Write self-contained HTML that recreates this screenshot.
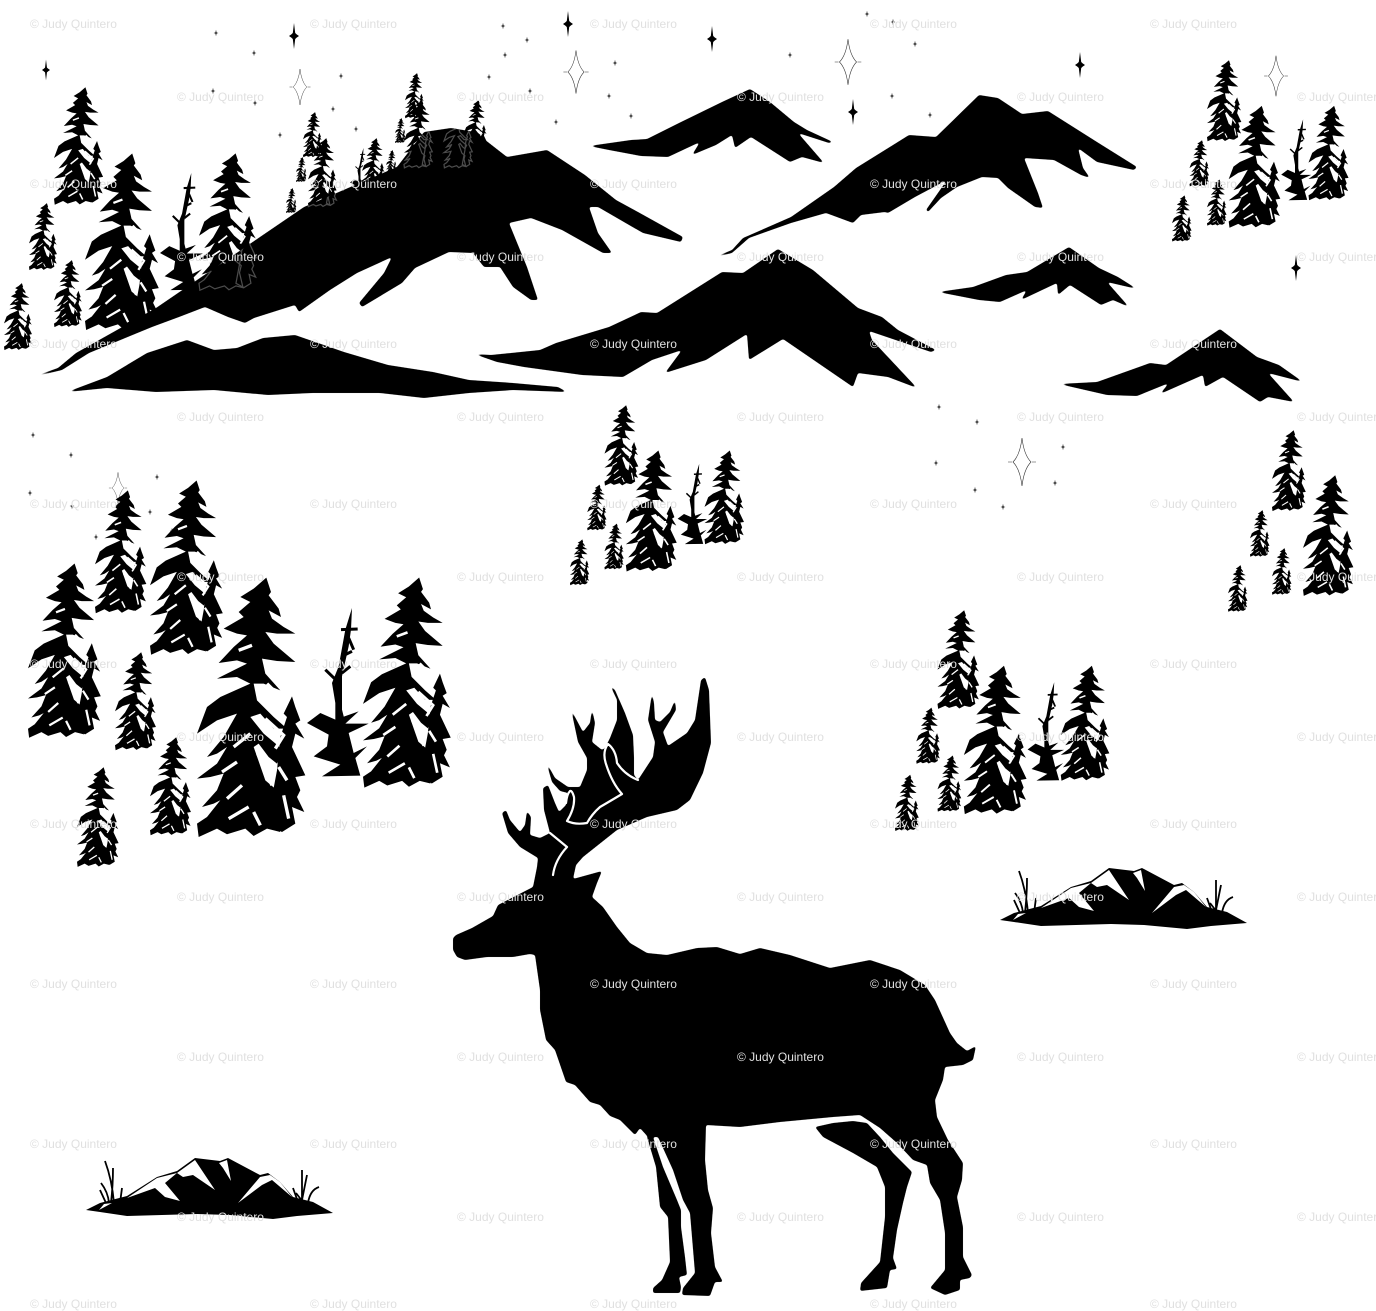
<!DOCTYPE html>
<html lang="en"><head><meta charset="utf-8"><title>Elk and mountains</title>
<style>html,body{margin:0;padding:0;background:#fff}svg{display:block}.w text{font:12px "Liberation Sans",sans-serif;fill:#e0e0e0}</style></head>
<body>
<svg xmlns="http://www.w3.org/2000/svg" width="1376" height="1311" viewBox="0 0 1376 1311">
<defs>
<filter id="r" filterUnits="userSpaceOnUse" x="0" y="0" width="1376" height="1311"><feGaussianBlur stdDeviation="1"/><feComponentTransfer><feFuncA type="linear" slope="5" intercept="-2"/></feComponentTransfer></filter>
<g id="Ao" transform="translate(-530,-320)">
<polygon points="738,322 752,365 745,375 775,415 782,440 745,420 755,445 790,470 825,490 770,490 735,485 760,520 825,575 770,572 725,565 735,610 780,660 730,640 700,640 710,690 760,740 800,775 760,775 720,730 690,740 730,790 790,840 770,880 745,860 715,820 700,830 735,930 770,960 760,1000 780,1085 740,1075 700,1097 675,1075 620,1092 590,1075 535,1100 530,1060 560,1040 600,990 580,1000 545,1010 590,960 610,910 570,920 530,925 590,880 620,830 590,850 560,860 610,800 650,730 590,750 530,790 560,710 600,680 690,640 650,620 590,625 680,580 650,570 595,578 640,530 680,495 650,490 610,475 670,440 655,425 690,395 660,380 700,355"/>
<polygon points="815,678 825,710 840,750 825,760 852,805 825,790 815,830 855,915 825,920 840,960 830,980 852,1025 815,1010 825,1060 785,1085 740,1060 770,900 780,800 800,740 790,730"/>
</g>
<g id="A"><use href="#Ao"/>
<path transform="translate(-530,-320)" fill="none" stroke="#fff" stroke-width="10" d="M735,745L790,795L765,835M712,850L755,945M620,985L665,945M605,905L650,875M625,1045L685,1010M700,1025L720,1065M790,975L805,1045M640,830L690,790M655,540L695,525M740,640L780,680M775,890L800,930"/>
</g>
<g id="S" transform="translate(-860,-415)">
<polygon points="995,415 992,480 985,530 965,620 965,720 985,800 1000,880 960,880 945,800 945,700 935,640 955,590 975,480"/>
<polygon points="860,760 900,730 945,750 1015,725 975,762 1045,762 985,790 1000,850 1040,830 1005,865 1020,918 905,920 960,885 880,860 920,830 925,795"/>
<path fill="none" stroke="#000" stroke-width="9" d="M915,600L948,632M962,480L1012,478M985,505L1000,540M965,560L995,545M965,610L990,590"/>
</g>
<g id="P">
<use href="#A" transform="translate(54,87) scale(.151)"/>
<use href="#A" transform="translate(85,153) scale(.227)"/>
<use href="#S" transform="translate(160,173) scale(.232)"/>
<use href="#A" transform="translate(199,153) scale(.176)"/>
<use href="#A" transform="translate(29,203) scale(.086)"/>
<use href="#A" transform="translate(54,260) scale(.086)"/>
<use href="#A" transform="translate(4,283) scale(.086)"/>
</g>
<polygon id="m1" points="29,378 58,368 76,353 156,308 304,207 397,167 424,132 451,128 475,132 507,157 547,150 585,175 616,200 638,212 683,237 681,242 643,233 598,207 589,207 598,233 612,253 603,253 562,230 531,218 509,223 527,267 538,300 531,300 513,287 500,267 484,267 473,253 449,252 415,268 402,283 362,307 359,303 384,273 392,257 357,273 330,290 299,312 295,305 254,318 245,323 228,317 205,307 179,317 152,327 89,353 62,370"/>
<clipPath id="cm"><use href="#m1"/></clipPath>
<g id="H">
<polygon points="86,1210 100,1203 127,1196 157,1177 177,1171 195,1158 220,1161 228,1158 260,1175 268,1173 280,1182 293,1197 313,1202 333,1213 297,1216 273,1219 230,1215 197,1214 127,1216 100,1212"/>
<g fill="#fff"><polygon points="127,1198 157,1178 177,1173 165,1183 180,1201 165,1197 155,1188"/><polygon points="177,1173 195,1160 215,1190 193,1175 183,1177"/><polygon points="219,1163 227,1160 231,1181 223,1168"/><polygon points="238,1203 260,1177 270,1175 280,1182 292,1197 272,1180 262,1185"/><polygon points="99,1210 112,1203 104,1204"/></g>
<path fill="none" stroke="#000" stroke-width="1.8" d="M105,1161Q112,1180 114,1203M113,1168Q113,1185 111,1203M101,1183Q108,1192 109,1203M100,1190L106,1203M122,1188L120,1203M302,1170L302,1200M307,1175L302,1200M319,1187Q310,1190 308,1203M293,1188L298,1202M296,1193L303,1202"/>
</g>
<path id="t" d="M0,-3.2L.5,-.5L2.4,0L.5,.5L0,3.2L-.5,.5L-2.4,0L-.5,-.5Z"/>
<path id="s" d="M0,-13L1.2,-3L2.8,-1.5L5,0L2.8,1.5L1.2,3L0,13L-1.2,3L-2.8,1.5L-5,0L-2.8,-1.5L-1.2,-3Z"/>
<g id="o" fill="none" stroke="#333" stroke-width=".6"><path d="M0,-24Q2,-7 9,0Q2,7 0,24Q-2,7 -9,0Q-2,-7 0,-24Z"/><path d="M-14,0H-10M10,0H14"/></g>
</defs>

<rect width="1376" height="1311" fill="#fff"/>

<!-- stars -->
<use href="#s" transform="translate(46,70) scale(.8)"/><use href="#s" transform="translate(294,36)"/><use href="#s" transform="translate(568,24)"/><use href="#s" transform="translate(712,39)"/><use href="#s" transform="translate(853,112)"/><use href="#s" transform="translate(1080,65)"/><use href="#s" transform="translate(1296,268)"/>
<use href="#o" transform="translate(300,87) scale(.75)"/><use href="#o" transform="translate(576,72) scale(.9)"/><use href="#o" transform="translate(848,62) scale(.95)"/><use href="#o" transform="translate(1276,76) scale(.85)"/><use href="#o" transform="translate(1022,462)"/><use href="#o" transform="translate(118,488) scale(.65)"/>
<g>
<use href="#t" x="213" y="91"/><use href="#t" x="255" y="103"/><use href="#t" x="341" y="76"/><use href="#t" x="333" y="109"/><use href="#t" x="356" y="129"/><use href="#t" x="280" y="135"/><use href="#t" x="489" y="77"/><use href="#t" x="530" y="91"/><use href="#t" x="556" y="122"/><use href="#t" x="609" y="96"/><use href="#t" x="631" y="116"/><use href="#t" x="615" y="63"/><use href="#t" x="216" y="33"/><use href="#t" x="254" y="53"/><use href="#t" x="503" y="26"/><use href="#t" x="527" y="40"/><use href="#t" x="505" y="55"/><use href="#t" x="790" y="55"/><use href="#t" x="867" y="14"/><use href="#t" x="893" y="22"/><use href="#t" x="915" y="44"/><use href="#t" x="892" y="96"/><use href="#t" x="930" y="115"/><use href="#t" x="939" y="407"/><use href="#t" x="977" y="422"/><use href="#t" x="936" y="463"/><use href="#t" x="1063" y="447"/><use href="#t" x="1055" y="483"/><use href="#t" x="1003" y="507"/><use href="#t" x="975" y="490"/><use href="#t" x="33" y="435"/><use href="#t" x="71" y="455"/><use href="#t" x="30" y="493"/><use href="#t" x="157" y="477"/><use href="#t" x="150" y="512"/><use href="#t" x="96" y="537"/><use href="#t" x="172" y="531"/><use href="#t" x="72" y="506"/>
</g>

<!-- top-left cluster -->
<use href="#P"/>
<!-- trees on the left mountain -->
<use href="#A" transform="translate(303,112) scale(.058)"/>
<use href="#A" transform="translate(296,157) scale(.032)"/>
<use href="#A" transform="translate(286,188) scale(.032)"/>
<use href="#A" transform="translate(308,138) scale(.088)"/>
<use href="#S" transform="translate(350,148) scale(.1)"/>
<use href="#A" transform="translate(362,138) scale(.07)"/>
<use href="#A" transform="translate(386,150) scale(.032)"/>
<use href="#A" transform="translate(395,118) scale(.032)"/>
<use href="#A" transform="translate(405,73) scale(.058)"/>
<use href="#A" transform="translate(404,100) scale(.087)"/>
<use href="#A" transform="translate(464,100) scale(.07)"/>

<!-- mountains -->
<g filter="url(#r)">
<use href="#m1"/>
<polygon points="67,392 107,377 147,353 187,340 214,350 237,348 263,338 295,335 344,352 388,365 433,372 469,380 513,383 558,387 567,392 513,390 469,393 424,398 380,393 312,393 268,395 214,390 156,392 107,388"/>
<polygon points="589,146 631,140 647,139 679,123 722,102 750,89 770,102 794,122 807,130 833,142 829,143 798,133 824,163 802,157 790,162 751,137 735,148 732,135 716,145 692,155 700,142 668,157 641,156 609,150"/>
<polygon points="712,258 732,250 743,238 791,217 834,187 856,168 909,135 936,137 979,95 998,98 1022,114 1048,111 1097,142 1137,167 1134,170 1097,162 1078,148 1083,168 1090,178 1081,175 1054,160 1024,158 1038,193 1043,208 1035,207 1008,188 998,178 982,177 957,187 941,198 928,212 926,210 947,180 915,197 888,213 885,212 861,215 853,223 826,213 791,223 749,238 732,253"/>
<polygon points="474,354 491,355 540,350 556,343 609,327 641,312 657,313 722,272 743,273 778,249 813,270 858,308 882,317 898,330 936,350 931,352 869,331 872,340 917,388 888,377 858,373 853,387 783,339 749,360 747,334 706,360 665,373 682,350 652,360 623,377 582,375 524,367 497,362"/>
<polygon points="938,292 973,287 1006,275 1027,272 1069,247 1099,268 1118,277 1137,289 1107,282 1129,307 1113,300 1101,305 1070,285 1058,295 1057,283 1021,300 1027,290 1000,302 979,300"/>
<polygon points="1059,384 1097,382 1150,363 1166,365 1220,329 1257,357 1279,365 1303,382 1268,373 1294,402 1268,397 1260,402 1223,377 1205,387 1203,375 1160,394 1169,383 1137,396 1107,395"/>
</g>
<g clip-path="url(#cm)" fill="none" stroke="#4c4c4c">
<use href="#Ao" transform="translate(404,100) scale(.087)" stroke-width="14"/>
<use href="#Ao" transform="translate(444,100) scale(.087)" stroke-width="14"/>
<use href="#Ao" transform="translate(199,153) scale(.176)" stroke-width="7"/>
<use href="#Ao" transform="translate(308,138) scale(.088)" stroke-width="14"/>
</g>

<!-- repeated clusters -->
<use href="#P" transform="translate(567.2,345.4) scale(.69,.685)"/>
<use href="#P" transform="translate(891.6,536.9) scale(.85,.84)"/>
<use href="#P" transform="translate(1169.2,0) scale(.7,.69)"/>

<!-- far-right cluster -->
<use href="#A" transform="translate(1272,430) scale(.104)"/>
<use href="#A" transform="translate(1303,475) scale(.155)"/>
<use href="#A" transform="translate(1250,510) scale(.06)"/>
<use href="#A" transform="translate(1272,548) scale(.06)"/>
<use href="#A" transform="translate(1228,565) scale(.06)"/>

<!-- left cluster -->
<use href="#A" transform="translate(197,577) scale(.3333)"/>
<use href="#A" transform="translate(150,480) scale(.224)"/>
<use href="#A" transform="translate(28,563) scale(.224)"/>
<use href="#A" transform="translate(95,490) scale(.158)"/>
<use href="#A" transform="translate(115,652) scale(.126)"/>
<use href="#A" transform="translate(150,737) scale(.126)"/>
<use href="#A" transform="translate(77,767) scale(.128)"/>
<use href="#A" transform="translate(363,577) scale(.27)"/>
<use href="#S" transform="translate(307,608) scale(.3333)"/>

<!-- small hills -->
<use href="#H"/>
<use href="#H" transform="translate(914,-290)"/>

<!-- elk -->
<g filter="url(#r)">
<path d="M453,938L456,935L472,928L493,916L498,905L533,887L537,867L538,858L520,847L508,833L502,813L506,810L510,820L520,832L525,825L527,811L531,817L530,835L540,838L550,833L544,810L543,788L548,785L555,803L559,812L566,805L568,793L560,791L552,782L547,765L547,765L549,767L555,778L568,787L580,787L587,770L587,758L578,742L571,709L575,717L583,732L590,723L592,709L595,723L592,742L602,750L605,748L610,738L617,720L617,700L610,685L615,690L625,713L633,735L634,757L634,775L638,780L653,757L655,742L648,720L652,693L654,703L655,720L660,722L670,712L675,700L676,710L663,732L668,746L687,733L695,720L701,680L705,677L709,690L711,743L703,773L690,800L677,810L647,817L617,830L583,857L576,865L573,879L602,871L597,883L592,897L603,907L617,927L630,943L647,953L667,955L697,948L717,947L740,954L760,948L790,955L830,968L870,960L900,970L925,985L935,1000L950,1033L957,1043L967,1051L976,1046L973,1060L963,1065L945,1067L943,1080L935,1100L937,1117L948,1140L963,1163L962,1180L957,1197L963,1227L963,1257L972,1275L970,1278L960,1280L960,1290L945,1295L930,1288L945,1270L945,1233L940,1200L930,1183L927,1165L913,1160L897,1143L880,1128L860,1115L833,1117L780,1122L740,1127L706,1125L705,1160L708,1190L713,1208L711,1233L715,1267L723,1282L715,1282L710,1296L682,1295L683,1288L695,1273L690,1213L683,1200L673,1170L658,1137L648,1137L640,1128L635,1135L620,1120L610,1116L600,1105L590,1102L575,1085L566,1082L555,1050L546,1040L540,1010L540,990L535,955L530,954L513,957L487,957L465,960L457,957L453,950Z"/>
<polygon points="647,1137 656,1167 660,1207 668,1217 670,1262 662,1280 653,1288 653,1293 680,1293 681,1287 679,1277 687,1275 685,1257 681,1227 681,1210 677,1200 663,1167 653,1137"/>
<polygon points="815,1127 833,1123 853,1121 867,1123 880,1137 893,1153 912,1172 907,1187 903,1203 897,1230 893,1258 897,1269 890,1270 887,1288 860,1291 861,1283 880,1262 885,1217 885,1187 877,1167 853,1153 823,1137"/>
</g>
<!-- antler highlights -->
<path fill="none" stroke="#fff" stroke-width="2.2" stroke-linejoin="round" stroke-linecap="round" d="M608,744Q602,752 606,764Q612,783 622,794Q612,800 600,807Q592,814 587,823Q575,825 567,821Q575,808 574,797Q572,790 570,791Q567,794 566,803M608,744Q616,750 617,763Q625,775 638,780M550,833L567,847Q555,860 553,875"/>

<!-- watermark -->
<g class="w">
<text x="30" y="28">© Judy Quintero</text><text x="310" y="28">© Judy Quintero</text><text x="590" y="28">© Judy Quintero</text><text x="870" y="28">© Judy Quintero</text><text x="1150" y="28">© Judy Quintero</text>
<text x="177" y="101">© Judy Quintero</text><text x="457" y="101">© Judy Quintero</text><text x="737" y="101">© Judy Quintero</text><text x="1017" y="101">© Judy Quintero</text><text x="1297" y="101">© Judy Quintero</text>
<text x="30" y="188">© Judy Quintero</text><text x="310" y="188">© Judy Quintero</text><text x="590" y="188">© Judy Quintero</text><text x="870" y="188">© Judy Quintero</text><text x="1150" y="188">© Judy Quintero</text>
<text x="177" y="261">© Judy Quintero</text><text x="457" y="261">© Judy Quintero</text><text x="737" y="261">© Judy Quintero</text><text x="1017" y="261">© Judy Quintero</text><text x="1297" y="261">© Judy Quintero</text>
<text x="30" y="348">© Judy Quintero</text><text x="310" y="348">© Judy Quintero</text><text x="590" y="348">© Judy Quintero</text><text x="870" y="348">© Judy Quintero</text><text x="1150" y="348">© Judy Quintero</text>
<text x="177" y="421">© Judy Quintero</text><text x="457" y="421">© Judy Quintero</text><text x="737" y="421">© Judy Quintero</text><text x="1017" y="421">© Judy Quintero</text><text x="1297" y="421">© Judy Quintero</text>
<text x="30" y="508">© Judy Quintero</text><text x="310" y="508">© Judy Quintero</text><text x="590" y="508">© Judy Quintero</text><text x="870" y="508">© Judy Quintero</text><text x="1150" y="508">© Judy Quintero</text>
<text x="177" y="581">© Judy Quintero</text><text x="457" y="581">© Judy Quintero</text><text x="737" y="581">© Judy Quintero</text><text x="1017" y="581">© Judy Quintero</text><text x="1297" y="581">© Judy Quintero</text>
<text x="30" y="668">© Judy Quintero</text><text x="310" y="668">© Judy Quintero</text><text x="590" y="668">© Judy Quintero</text><text x="870" y="668">© Judy Quintero</text><text x="1150" y="668">© Judy Quintero</text>
<text x="177" y="741">© Judy Quintero</text><text x="457" y="741">© Judy Quintero</text><text x="737" y="741">© Judy Quintero</text><text x="1017" y="741">© Judy Quintero</text><text x="1297" y="741">© Judy Quintero</text>
<text x="30" y="828">© Judy Quintero</text><text x="310" y="828">© Judy Quintero</text><text x="590" y="828">© Judy Quintero</text><text x="870" y="828">© Judy Quintero</text><text x="1150" y="828">© Judy Quintero</text>
<text x="177" y="901">© Judy Quintero</text><text x="457" y="901">© Judy Quintero</text><text x="737" y="901">© Judy Quintero</text><text x="1017" y="901">© Judy Quintero</text><text x="1297" y="901">© Judy Quintero</text>
<text x="30" y="988">© Judy Quintero</text><text x="310" y="988">© Judy Quintero</text><text x="590" y="988">© Judy Quintero</text><text x="870" y="988">© Judy Quintero</text><text x="1150" y="988">© Judy Quintero</text>
<text x="177" y="1061">© Judy Quintero</text><text x="457" y="1061">© Judy Quintero</text><text x="737" y="1061">© Judy Quintero</text><text x="1017" y="1061">© Judy Quintero</text><text x="1297" y="1061">© Judy Quintero</text>
<text x="30" y="1148">© Judy Quintero</text><text x="310" y="1148">© Judy Quintero</text><text x="590" y="1148">© Judy Quintero</text><text x="870" y="1148">© Judy Quintero</text><text x="1150" y="1148">© Judy Quintero</text>
<text x="177" y="1221">© Judy Quintero</text><text x="457" y="1221">© Judy Quintero</text><text x="737" y="1221">© Judy Quintero</text><text x="1017" y="1221">© Judy Quintero</text><text x="1297" y="1221">© Judy Quintero</text>
<text x="30" y="1308">© Judy Quintero</text><text x="310" y="1308">© Judy Quintero</text><text x="590" y="1308">© Judy Quintero</text><text x="870" y="1308">© Judy Quintero</text><text x="1150" y="1308">© Judy Quintero</text>
</g>
</svg>
</body></html>
